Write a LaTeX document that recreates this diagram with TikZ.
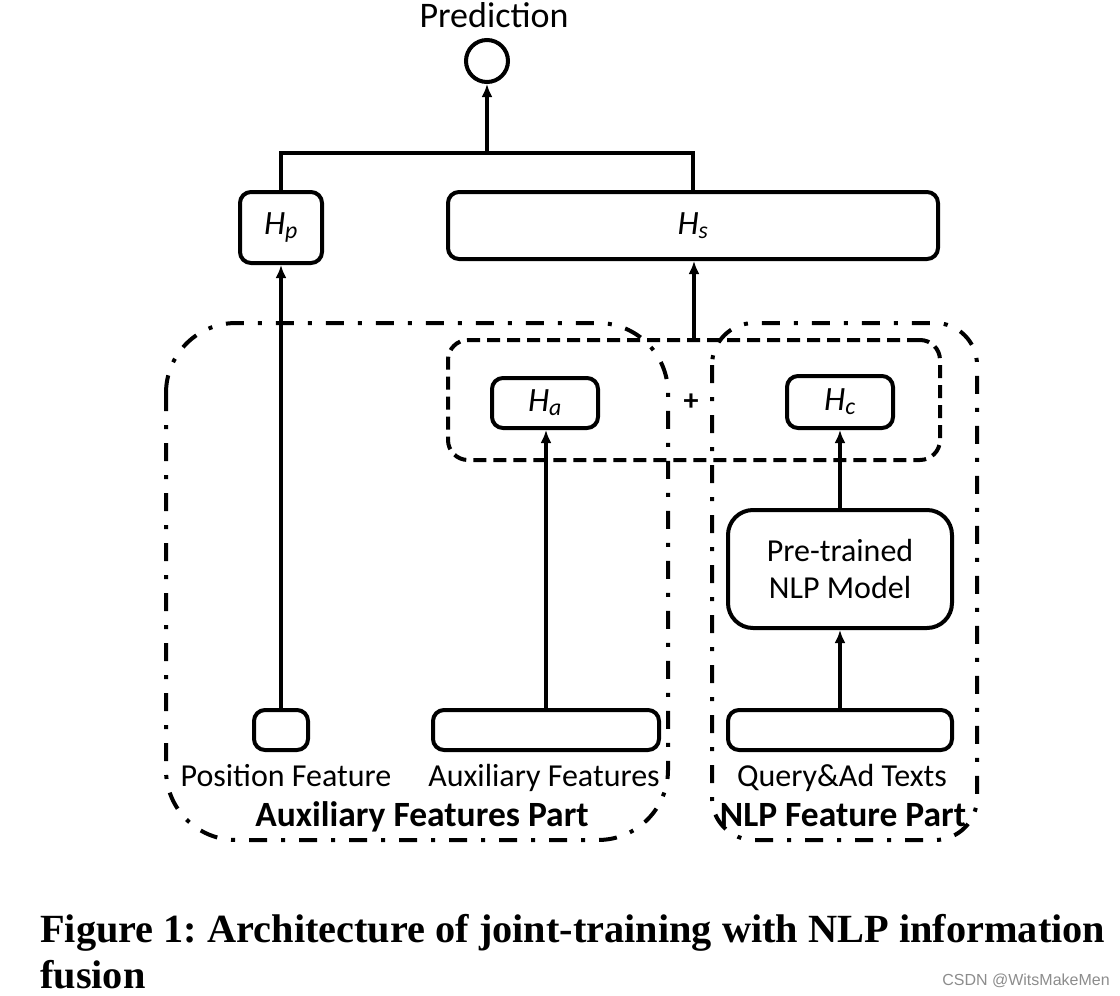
\documentclass[tikz,border=0pt]{standalone}
\usepackage{fontspec}
\setmainfont{Carlito}
\newfontfamily\capfont{Liberation Serif}
\newfontfamily\wmfont{Liberation Sans}
\usetikzlibrary{arrows.meta}
\frenchspacing

\tikzset{
  blk/.style={draw, line width=4pt, rounded corners=11pt, inner sep=0pt, font=\fontsize{34}{38}\selectfont\itshape},
  part/.style={draw, line width=4pt, dash pattern=on 18pt off 14pt on 4pt off 14pt},
  grp/.style={draw, line width=4pt, rounded corners=20pt, dash pattern=on 13pt off 7pt},
  arr/.style={line width=3.5pt, -{Latex[length=13pt,width=11pt]}},
  lbl/.style={inner sep=0pt, anchor=base, font=\fontsize{32}{36}\selectfont},
  ttl/.style={inner sep=0pt, anchor=base, font=\fontsize{35.5}{40}\selectfont\bfseries},
}

\begin{document}
\begin{tikzpicture}[x=1pt,y=-1pt]
\useasboundingbox (0,0) rectangle (1120,996);

% the two parts
\draw [part, rounded corners=70pt] (166,323) rectangle (668,840) ;
\draw [part, rounded corners=42pt] (712,323) rectangle (977,840) ;
\node [grp, minimum width=492pt, minimum height=120pt] (fuse) at (694,400) {};

% output
\node [lbl, font=\fontsize{36}{40}\selectfont] (predtxt) at (494,27) {Prediction};
\node [draw, circle, line width=4pt, minimum size=42pt, inner sep=0pt] (pred) at (487,61) {};
\node [blk, minimum width=82pt, minimum height=71pt] (hp) at (281,227.5) {H\textsubscript{p}};
\node [blk, minimum width=490pt, minimum height=67pt] (hs) at (693,225.5) {H\textsubscript{s}};
\coordinate (bus) at (487,153);
\draw [line width=3.5pt] (hp.north) |- (bus) -| (hs.north) ;
\draw [arr] (bus) -- (pred) ;
\draw [arr] (fuse.north) -- (fuse.north |- hs.south) ;

% hidden vectors
\node [blk, minimum width=106pt, minimum height=50pt] (ha) at (545,403) {H\textsubscript{a}};
\node [blk, minimum width=106pt, minimum height=52pt] (hc) at (840,402) {H\textsubscript{c}};
\node [inner sep=0pt, font=\fontsize{30}{34}\selectfont\bfseries] (plus) at (691,402) {+};

% inputs
\node [blk, minimum width=54pt, minimum height=40pt] (pos) at (281,730) {};
\node [blk, minimum width=226pt, minimum height=40pt] (aux) at (546,730) {};
\node [blk, minimum width=224pt, minimum height=40pt] (qry) at (840,730) {};
\node [blk, rounded corners=25pt, minimum width=224pt, minimum height=118pt, align=center,
  font=\fontsize{32}{37}\selectfont] (nlp) at (840,569) {Pre-trained\\NLP Model};

\draw [arr] (pos) -- (hp) ;
\draw [arr] (aux.north) -- (aux.north |- ha.south) ;
\draw [arr] (qry) -- (nlp) ;
\draw [arr] (nlp) -- (hc) ;

% labels
\node [lbl] (postxt) at (286,786) {Position Feature};
\node [lbl] (auxtxt) at (544,786) {Auxiliary Features};
\node [lbl] (qrytxt) at (842,786) {Query\&Ad Texts};
\node [ttl] (auxpart) at (422,826) {Auxiliary Features Part};
\node [ttl] (nlppart) at (843,826) {NLP Feature Part};

% caption
\node [inner sep=0pt, anchor=base west, font=\capfont\fontsize{40}{46}\selectfont\bfseries] (cap) at (40,942)
  {\resizebox{1065pt}{\height}{\begin{tabular}[t]{@{}l@{}}Figure 1: Architecture of joint-training with NLP information\\fusion\end{tabular}}};
\node [inner sep=0pt, text=black!45, font=\wmfont\fontsize{16}{18}\selectfont] (wm) at (1026,981) {CSDN @WitsMakeMen};
\end{tikzpicture}
\end{document}
